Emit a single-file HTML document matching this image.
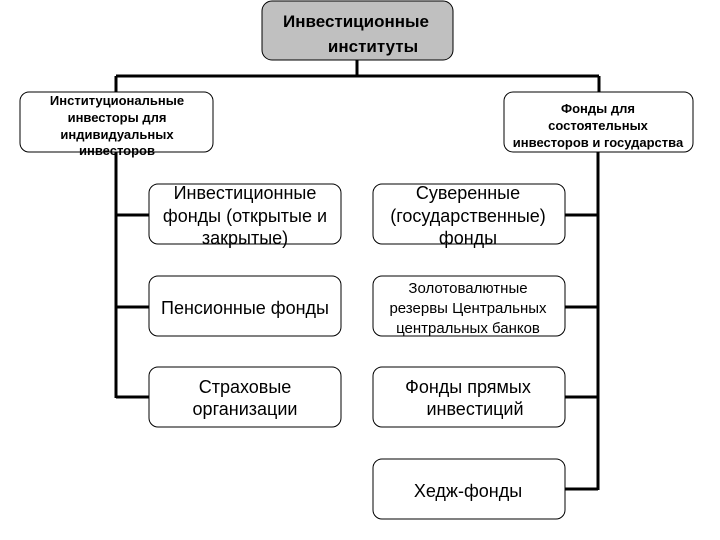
<!DOCTYPE html>
<html><head><meta charset="utf-8"><style>body{margin:0;background:#fff}svg{display:block}</style></head><body>
<svg width="720" height="540" xmlns="http://www.w3.org/2000/svg" font-family="Liberation Sans, Arial, sans-serif">
<g stroke="#000" stroke-width="3" fill="none">
<line x1="357" y1="60" x2="357" y2="76"/>
<line x1="116" y1="76" x2="599" y2="76"/>
<line x1="116" y1="76" x2="116" y2="92"/>
<line x1="599" y1="76" x2="599" y2="92"/>
<line x1="116" y1="152" x2="116" y2="398"/>
<line x1="116" y1="215" x2="149" y2="215"/>
<line x1="116" y1="307" x2="149" y2="307"/>
<line x1="116" y1="397" x2="149" y2="397"/>
<line x1="598" y1="152" x2="598" y2="490"/>
<line x1="565" y1="215" x2="598" y2="215"/>
<line x1="565" y1="307" x2="598" y2="307"/>
<line x1="565" y1="397" x2="598" y2="397"/>
<line x1="565" y1="489" x2="598" y2="489"/>
</g>
<g stroke="#000" stroke-width="1">
<rect x="262" y="1" width="191" height="59" rx="10" fill="#c0c0c0"/>
<rect x="20" y="92" width="193" height="60" rx="9" fill="#fff"/>
<rect x="504" y="92" width="189" height="60" rx="9" fill="#fff"/>
<g fill="#fff">
<rect x="149" y="184" width="192" height="60" rx="9"/>
<rect x="149" y="276" width="192" height="60" rx="9"/>
<rect x="149" y="367" width="192" height="60" rx="9"/>
<rect x="373" y="184" width="192" height="60" rx="9"/>
<rect x="373" y="276" width="192" height="60" rx="9"/>
<rect x="373" y="367" width="192" height="60" rx="9"/>
<rect x="373" y="459" width="192" height="60" rx="9"/>
</g></g>
<g fill="#000" text-anchor="middle">
<text x="356" y="27" font-size="17" font-weight="bold">Инвестиционные</text>
<text x="373" y="52" font-size="17" font-weight="bold">институты</text>
<g font-size="13" font-weight="bold">
<text x="117" y="105">Институциональные</text>
<text x="117" y="122">инвесторы для</text>
<text x="117" y="139">индивидуальных</text>
<text x="117" y="155">инвесторов</text>
<text x="598" y="113">Фонды для</text>
<text x="598" y="130">состоятельных</text>
<text x="598" y="147">инвесторов и государства</text>
</g>
<g font-size="18">
<text x="245" y="199">Инвестиционные</text>
<text x="245" y="222">фонды (открытые и</text>
<text x="245" y="244">закрытые)</text>
<text x="468" y="199">Суверенные</text>
<text x="468" y="222">(государственные)</text>
<text x="468" y="244">фонды</text>
<text x="245" y="314">Пенсионные фонды</text>
<text x="245" y="393">Страховые</text>
<text x="245" y="415">организации</text>
<text x="468" y="393">Фонды прямых</text>
<text x="475" y="415">инвестиций</text>
<text x="468" y="497">Хедж-фонды</text>
</g>
<g font-size="15">
<text x="468" y="293">Золотовалютные</text>
<text x="468" y="313">резервы Центральных</text>
<text x="468" y="333">центральных банков</text>
</g>
</g>
</svg>
</body></html>
